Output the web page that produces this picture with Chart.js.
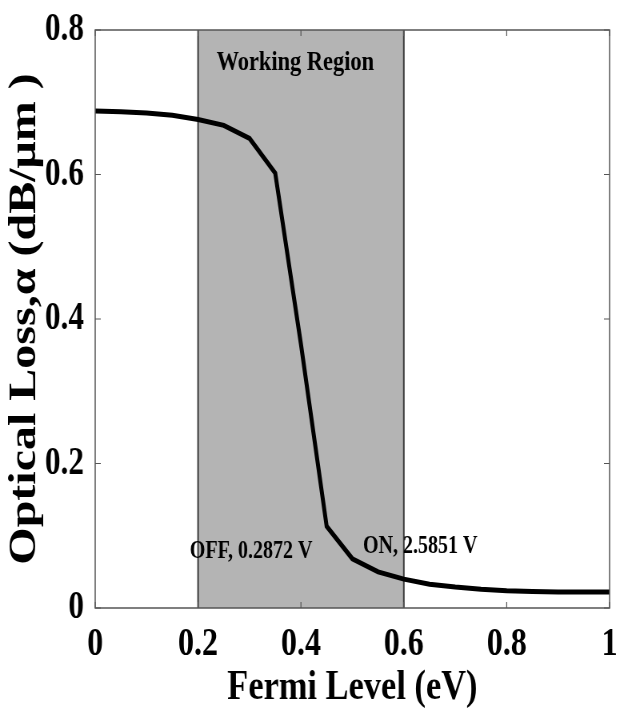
<!DOCTYPE html>
<html>
<head>
<meta charset="utf-8">
<script src="https://cdn.jsdelivr.net/npm/chart.js@4.4.1/dist/chart.umd.min.js"></script>
<style>
  html, body { margin: 0; padding: 0; background: #fff; overflow: hidden; }
  /* the original figure is squeezed sideways, so the whole chart is drawn wider and scaled back */
  #holder { width: 781px; height: 714px; transform: scaleX(0.8); transform-origin: 0 0; }
</style>
</head>
<body>
<div id="holder"><canvas id="grafico" width="781" height="714"></canvas></div>
<script>
const fermiLevel = [0, 0.05, 0.1, 0.15, 0.2, 0.25, 0.3, 0.35, 0.4, 0.45, 0.5, 0.55, 0.6, 0.65, 0.7, 0.75, 0.8, 0.85, 0.9, 0.95, 1];
const opticalLoss = [0.688, 0.687, 0.685, 0.682, 0.676, 0.668, 0.650, 0.602, 0.365, 0.113, 0.068, 0.050, 0.040, 0.033, 0.029, 0.026, 0.024, 0.023, 0.022, 0.022, 0.022];

const xTicks = [0, 0.2, 0.4, 0.6, 0.8, 1];
const xTickLabels = ['0', '0.2', '0.4', '0.6', '0.8', '1'];
const yTicks = [0, 0.2, 0.4, 0.6, 0.8];
const yTickLabels = ['0', '0.2', '0.4', '0.6', '0.8'];

const workingRegion = [0.2, 0.6];

const noteTexts = ['Working Region', 'OFF, 0.2872 V', 'ON, 2.5851 V'];
const noteX = [0.389, 0.303, 0.632];
const noteY = [0.745, 0.069, 0.076];

const serif = 'Liberation Serif';

const regiao = {
    id: 'regiao',
    beforeDatasetsDraw(chart) {
        const { ctx, chartArea: a, scales: { x } } = chart;
        const x0 = x.getPixelForValue(workingRegion[0]);
        const x1 = x.getPixelForValue(workingRegion[1]);
        ctx.save();
        ctx.fillStyle = '#b4b4b4';
        ctx.fillRect(x0, a.top, x1 - x0, a.bottom - a.top);
        ctx.strokeStyle = '#3c3c3c';
        ctx.lineWidth = 2;
        ctx.beginPath();
        ctx.moveTo(x0, a.top); ctx.lineTo(x0, a.bottom);
        ctx.moveTo(x1, a.top); ctx.lineTo(x1, a.bottom);
        ctx.stroke();
        ctx.restore();
    },
    afterDatasetsDraw(chart) {
        const { ctx, chartArea: a, scales: { x, y } } = chart;
        ctx.save();

        // box and inward ticks, matlab style
        ctx.strokeStyle = '#555';
        ctx.lineWidth = 1.5;
        ctx.strokeRect(a.left, a.top, a.right - a.left, a.bottom - a.top);
        ctx.lineWidth = 1.2;
        ctx.beginPath();
        xTicks.forEach(v => {
            const px = x.getPixelForValue(v);
            ctx.moveTo(px, a.bottom); ctx.lineTo(px, a.bottom - 6);
            ctx.moveTo(px, a.top); ctx.lineTo(px, a.top + 6);
        });
        yTicks.forEach(v => {
            const py = y.getPixelForValue(v);
            ctx.moveTo(a.left, py); ctx.lineTo(a.left + 7, py);
            ctx.moveTo(a.right, py); ctx.lineTo(a.right - 7, py);
        });
        ctx.stroke();

        ctx.fillStyle = '#000';
        ctx.textAlign = 'center';
        ctx.textBaseline = 'alphabetic';
        noteTexts.forEach((t, i) => {
            ctx.font = (i === 0 ? 'bold 28px ' : 'bold 25px ') + '"' + serif + '"';
            ctx.fillText(t, x.getPixelForValue(noteX[i]), y.getPixelForValue(noteY[i]));
        });
        ctx.restore();
    }
};

const ctx = document.getElementById('grafico').getContext('2d');
new Chart(ctx, {
    type: 'line',
    data: {
        datasets: [{
            data: fermiLevel.map((v, i) => ({ x: v, y: opticalLoss[i] })),
            borderColor: '#000',
            borderWidth: 5,
            pointRadius: 0,
            tension: 0,
            fill: false
        }]
    },
    options: {
        responsive: false,
        animation: false,
        devicePixelRatio: 1,
        layout: { padding: { top: 30, right: 10, left: 0, bottom: 0 } },
        plugins: {
            legend: { display: false },
            tooltip: { enabled: false }
        },
        scales: {
            x: {
                type: 'linear',
                min: 0,
                max: 1,
                afterBuildTicks: s => { s.ticks = xTicks.map(v => ({ value: v })); },
                afterFit: s => { s.height = 106; },
                grid: { display: false },
                border: { display: false },
                ticks: {
                    color: '#000',
                    padding: 9,
                    maxRotation: 0,
                    autoSkip: false,
                    font: { family: serif, size: 40, weight: 'bold', lineHeight: 1 },
                    callback: (v, i) => xTickLabels[i]
                },
                title: {
                    display: true,
                    text: 'Fermi Level (eV)',
                    color: '#000',
                    font: { family: serif, size: 43, weight: 'bold', lineHeight: 1 },
                    padding: { top: 0, bottom: 5 }
                }
            },
            y: {
                min: 0,
                max: 0.8,
                afterBuildTicks: s => { s.ticks = yTicks.map(v => ({ value: v })); },
                afterFit: s => { s.width = 119; },
                grid: { display: false },
                border: { display: false },
                ticks: {
                    color: '#000',
                    padding: 6,
                    font: { family: serif, size: 39, weight: 'bold', lineHeight: 1 },
                    callback: (v, i) => yTickLabels[i]
                },
                title: {
                    display: true,
                    text: 'Optical Loss,\u03b1 (dB/\u03bcm )',
                    color: '#000',
                    font: { family: serif, size: 48, weight: 'bold', lineHeight: 1 },
                    padding: { top: 8, bottom: 0 }
                }
            }
        }
    },
    plugins: [regiao]
});
</script>
</body>
</html>
